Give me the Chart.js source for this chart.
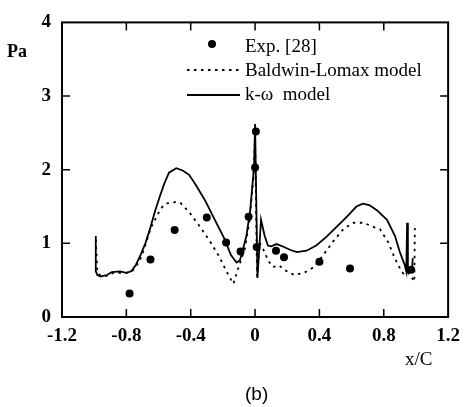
<!DOCTYPE html>
<html>
<head>
<meta charset="utf-8">
<title>Pa vs x/C</title>
<script src="https://cdn.jsdelivr.net/npm/chart.js@4"></script>
<style>
  body { margin: 0; background: #fff; }
  #wrap { position: relative; width: 468px; height: 407px; }
  .lbl { position: absolute; color: #000; font-family: "Liberation Serif", serif; white-space: nowrap; }
</style>
</head>
<body>
<div id="wrap">
  <canvas id="grafica" width="468" height="407"></canvas>
  <div class="lbl" style="left:7px; top:41px; font-size:18px; font-weight:bold;">Pa</div>
  <div class="lbl" style="left:405px; top:348px; font-size:19px;">x/C</div>
  <div class="lbl" style="left:245px; top:383px; font-size:19px; font-family:'Liberation Sans', sans-serif;">(b)</div>
</div>
<script>
// ticks
const xTicks = [-1.2, -0.8, -0.4, 0, 0.4, 0.8, 1.2];
const yTicks = [0, 1, 2, 3, 4];

// Exp. [28]
const expX = [-0.78, -0.65, -0.5, -0.3, -0.18, -0.09, -0.04, 0.0, 0.005, 0.01, 0.13, 0.18, 0.4, 0.59, 0.97];
const expY = [0.32, 0.78, 1.18, 1.35, 1.01, 0.89, 1.36, 2.03, 2.52, 0.95, 0.90, 0.81, 0.75, 0.66, 0.64];

// Baldwin-Lomax model
const blX = [-0.99, -0.98, -0.96, -0.92, -0.88, -0.80, -0.76, -0.72, -0.69, -0.67, -0.648, -0.617, -0.587, -0.556, -0.494, -0.464, -0.412, -0.35, -0.29, -0.228, -0.166, -0.135, -0.105, -0.064, -0.035, -0.01, 0.0, 0.012, 0.03, 0.06, 0.08, 0.11, 0.15, 0.18, 0.245, 0.305, 0.367, 0.43, 0.49, 0.552, 0.613, 0.675, 0.726, 0.777, 0.829, 0.87, 0.91, 0.93, 0.95, 0.97, 0.99, 0.993];
const blY = [1.05, 0.60, 0.56, 0.56, 0.60, 0.60, 0.63, 0.75, 0.92, 1.06, 1.21, 1.34, 1.47, 1.54, 1.56, 1.55, 1.43, 1.25, 1.06, 0.84, 0.57, 0.45, 0.66, 0.92, 1.30, 1.90, 2.50, 0.55, 1.00, 0.88, 0.77, 0.68, 0.70, 0.64, 0.57, 0.60, 0.68, 0.86, 1.04, 1.20, 1.28, 1.28, 1.23, 1.19, 1.01, 0.79, 0.62, 0.57, 0.60, 0.55, 0.48, 1.21];

// k-omega model
const kwX = [-0.99, -0.99, -0.98, -0.96, -0.92, -0.89, -0.84, -0.80, -0.77, -0.74, -0.71, -0.68, -0.65, -0.62, -0.59, -0.566, -0.535, -0.49, -0.45, -0.41, -0.37, -0.31, -0.25, -0.19, -0.15, -0.115, -0.094, -0.075, -0.054, -0.03, -0.006, 0.0, 0.015, 0.037, 0.06, 0.08, 0.10, 0.134, 0.18, 0.22, 0.26, 0.32, 0.38, 0.44, 0.50, 0.57, 0.63, 0.67, 0.71, 0.757, 0.82, 0.87, 0.90, 0.93, 0.94, 0.945, 0.95, 0.975, 0.98];
const kwY = [1.10, 0.62, 0.57, 0.55, 0.57, 0.61, 0.62, 0.60, 0.62, 0.71, 0.85, 1.01, 1.22, 1.45, 1.65, 1.80, 1.96, 2.02, 1.99, 1.93, 1.80, 1.58, 1.32, 1.06, 0.84, 0.74, 0.77, 0.92, 1.10, 1.45, 2.05, 2.62, 0.53, 1.32, 1.10, 0.97, 0.96, 0.99, 0.95, 0.91, 0.88, 0.90, 0.97, 1.08, 1.21, 1.36, 1.50, 1.54, 1.52, 1.45, 1.32, 1.10, 0.88, 0.71, 0.62, 1.28, 0.62, 0.62, 0.80];

const pts = (xs, ys) => xs.map((x, i) => ({ x: x, y: ys[i] }));

// frame, inward ticks and legend
const marco = {
    id: 'marco',
    afterDraw(chart) {
        const { ctx, chartArea: a, scales } = chart;
        ctx.save();
        ctx.strokeStyle = '#000';
        ctx.lineWidth = 2;
        ctx.strokeRect(a.left, a.top, a.right - a.left, a.bottom - a.top);
        ctx.lineWidth = 1.5;
        const tl = 8;
        xTicks.slice(1, -1).forEach(v => {
            const px = scales.x.getPixelForValue(v);
            ctx.beginPath();
            ctx.moveTo(px, a.bottom); ctx.lineTo(px, a.bottom - tl);
            ctx.moveTo(px, a.top); ctx.lineTo(px, a.top + tl);
            ctx.stroke();
        });
        yTicks.slice(1, -1).forEach(v => {
            const py = scales.y.getPixelForValue(v);
            ctx.beginPath();
            ctx.moveTo(a.left, py); ctx.lineTo(a.left + tl, py);
            ctx.moveTo(a.right, py); ctx.lineTo(a.right - tl, py);
            ctx.stroke();
        });

        // legend
        const ds = chart.data.datasets;
        ctx.fillStyle = '#000';
        ctx.beginPath();
        ctx.arc(212, 44, 4, 0, Math.PI * 2);
        ctx.fill();
        ctx.lineWidth = 1.8;
        ctx.setLineDash([2.5, 4.5]);
        ctx.beginPath(); ctx.moveTo(187, 70); ctx.lineTo(239, 70); ctx.stroke();
        ctx.setLineDash([]);
        ctx.lineWidth = 1.8;
        ctx.beginPath(); ctx.moveTo(187, 95); ctx.lineTo(240, 95); ctx.stroke();
        ctx.font = '19px "Liberation Serif", serif';
        ctx.textBaseline = 'middle';
        ctx.fillText(ds[0].label, 245, 47);
        ctx.fillText(ds[1].label, 245, 71);
        ctx.fillText(ds[2].label, 245, 95);
        ctx.restore();
    }
};

const tickFont = { family: '"Liberation Serif", serif', size: 19, weight: 'bold' };

new Chart(document.getElementById('grafica'), {
    type: 'scatter',
    data: {
        datasets: [
            { label: 'Exp. [28]', data: pts(expX, expY), pointRadius: 4, pointBackgroundColor: '#000', pointBorderWidth: 0, showLine: false },
            { label: 'Baldwin-Lomax model', data: pts(blX, blY), showLine: true, pointRadius: 0, borderColor: '#000', borderWidth: 1.8, borderDash: [2.5, 4.5] },
            { label: 'k-\u03c9  model', data: pts(kwX, kwY), showLine: true, pointRadius: 0, borderColor: '#000', borderWidth: 1.8 }
        ]
    },
    options: {
        responsive: false,
        animation: false,
        layout: { padding: { left: 0, right: 16, top: 13, bottom: 0 } },
        plugins: { legend: { display: false }, tooltip: { enabled: false } },
        scales: {
            x: {
                type: 'linear', min: -1.2, max: 1.2,
                afterBuildTicks: s => { s.ticks = xTicks.map(v => ({ value: v })); },
                afterFit: s => { s.height = 90; },
                grid: { display: false, drawTicks: false },
                border: { display: false },
                ticks: { color: '#000', font: tickFont, padding: 8, maxRotation: 0, callback: v => String(+v.toFixed(1)) }
            },
            y: {
                type: 'linear', min: 0, max: 4,
                afterBuildTicks: s => { s.ticks = yTicks.map(v => ({ value: v })); },
                afterFit: s => { s.width = 62; },
                grid: { display: false, drawTicks: false },
                border: { display: false },
                ticks: { color: '#000', font: tickFont, padding: 11 }
            }
        }
    },
    plugins: [marco]
});
</script>
</body>
</html>
